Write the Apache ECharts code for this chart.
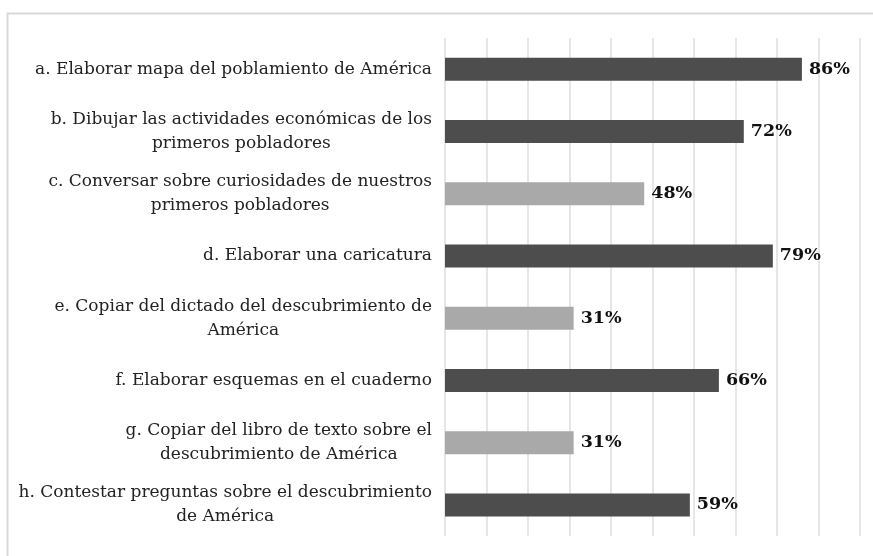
<!DOCTYPE html>
<html>
<head>
<meta charset="utf-8">
<script src="https://cdn.jsdelivr.net/npm/echarts@6/dist/echarts.min.js"></script>
<style>
  html, body { margin: 0; padding: 0; background: #fff; }
  #chart { width: 873px; height: 556px; }
</style>
</head>
<body>
<div id="chart"></div>
<script>
// categorías (con salto de línea como en el original)
const categorias = [
  "a. Elaborar mapa del poblamiento de América",
  "b. Dibujar las actividades económicas de los\nprimeros pobladores",
  "c. Conversar sobre curiosidades de nuestros\nprimeros pobladores",
  "d. Elaborar una caricatura",
  "e. Copiar del dictado del descubrimiento de\nAmérica",
  "f. Elaborar esquemas en el cuaderno",
  "g. Copiar del libro de texto sobre el\ndescubrimiento de América",
  "h. Contestar preguntas sobre el descubrimiento\nde América"
];
const porcentajes = [86, 72, 48, 79, 31, 66, 31, 59];
const ejeTicks = [0, 10, 20, 30, 40, 50, 60, 70, 80, 90, 100];

let chart = echarts.init(document.getElementById("chart"));

let option = {
  animation: false,
  graphic: [
    {
      // borde del área del gráfico
      type: "rect",
      left: 5,
      top: 11,
      shape: { width: 900, height: 600 },
      style: { fill: "none", stroke: "#d9d9d9", lineWidth: 2 },
      silent: true
    }
  ],
  grid: {
    left: 445,
    right: 13,
    top: 38,
    bottom: 20
  },
  xAxis: {
    type: "value",
    min: ejeTicks[0],
    max: ejeTicks[ejeTicks.length - 1],
    interval: ejeTicks[1] - ejeTicks[0],
    axisLabel: { show: false },
    axisLine: { show: false },
    axisTick: { show: false },
    splitLine: {
      lineStyle: { color: "#dedede", width: 1.5 }
    }
  },
  yAxis: {
    type: "category",
    inverse: true,
    data: categorias,
    axisLine: { show: false },
    axisTick: { show: false },
    axisLabel: {
      margin: 13,
      align: "right",
      formatter: function (v) {
        return v.split("\n").map(s => "{c|" + s + "}").join("\n");
      },
      rich: {
        c: {
          align: "center",
          fontFamily: "DejaVu Serif",
          fontSize: 17,
          lineHeight: 24,
          color: "#222"
        }
      }
    }
  },
  series: [
    {
      type: "bar",
      data: porcentajes,
      barWidth: 23,
      itemStyle: {
        color: function (p) {
          return p.value < 50 ? "#a9a9a9" : "#4d4d4d";
        }
      },
      label: {
        show: true,
        position: "right",
        distance: 7,
        formatter: "{c}%",
        fontFamily: "DejaVu Serif",
        fontWeight: "bold",
        fontSize: 17.5,
        color: "#111"
      }
    }
  ]
};

chart.setOption(option);
</script>
</body>
</html>
